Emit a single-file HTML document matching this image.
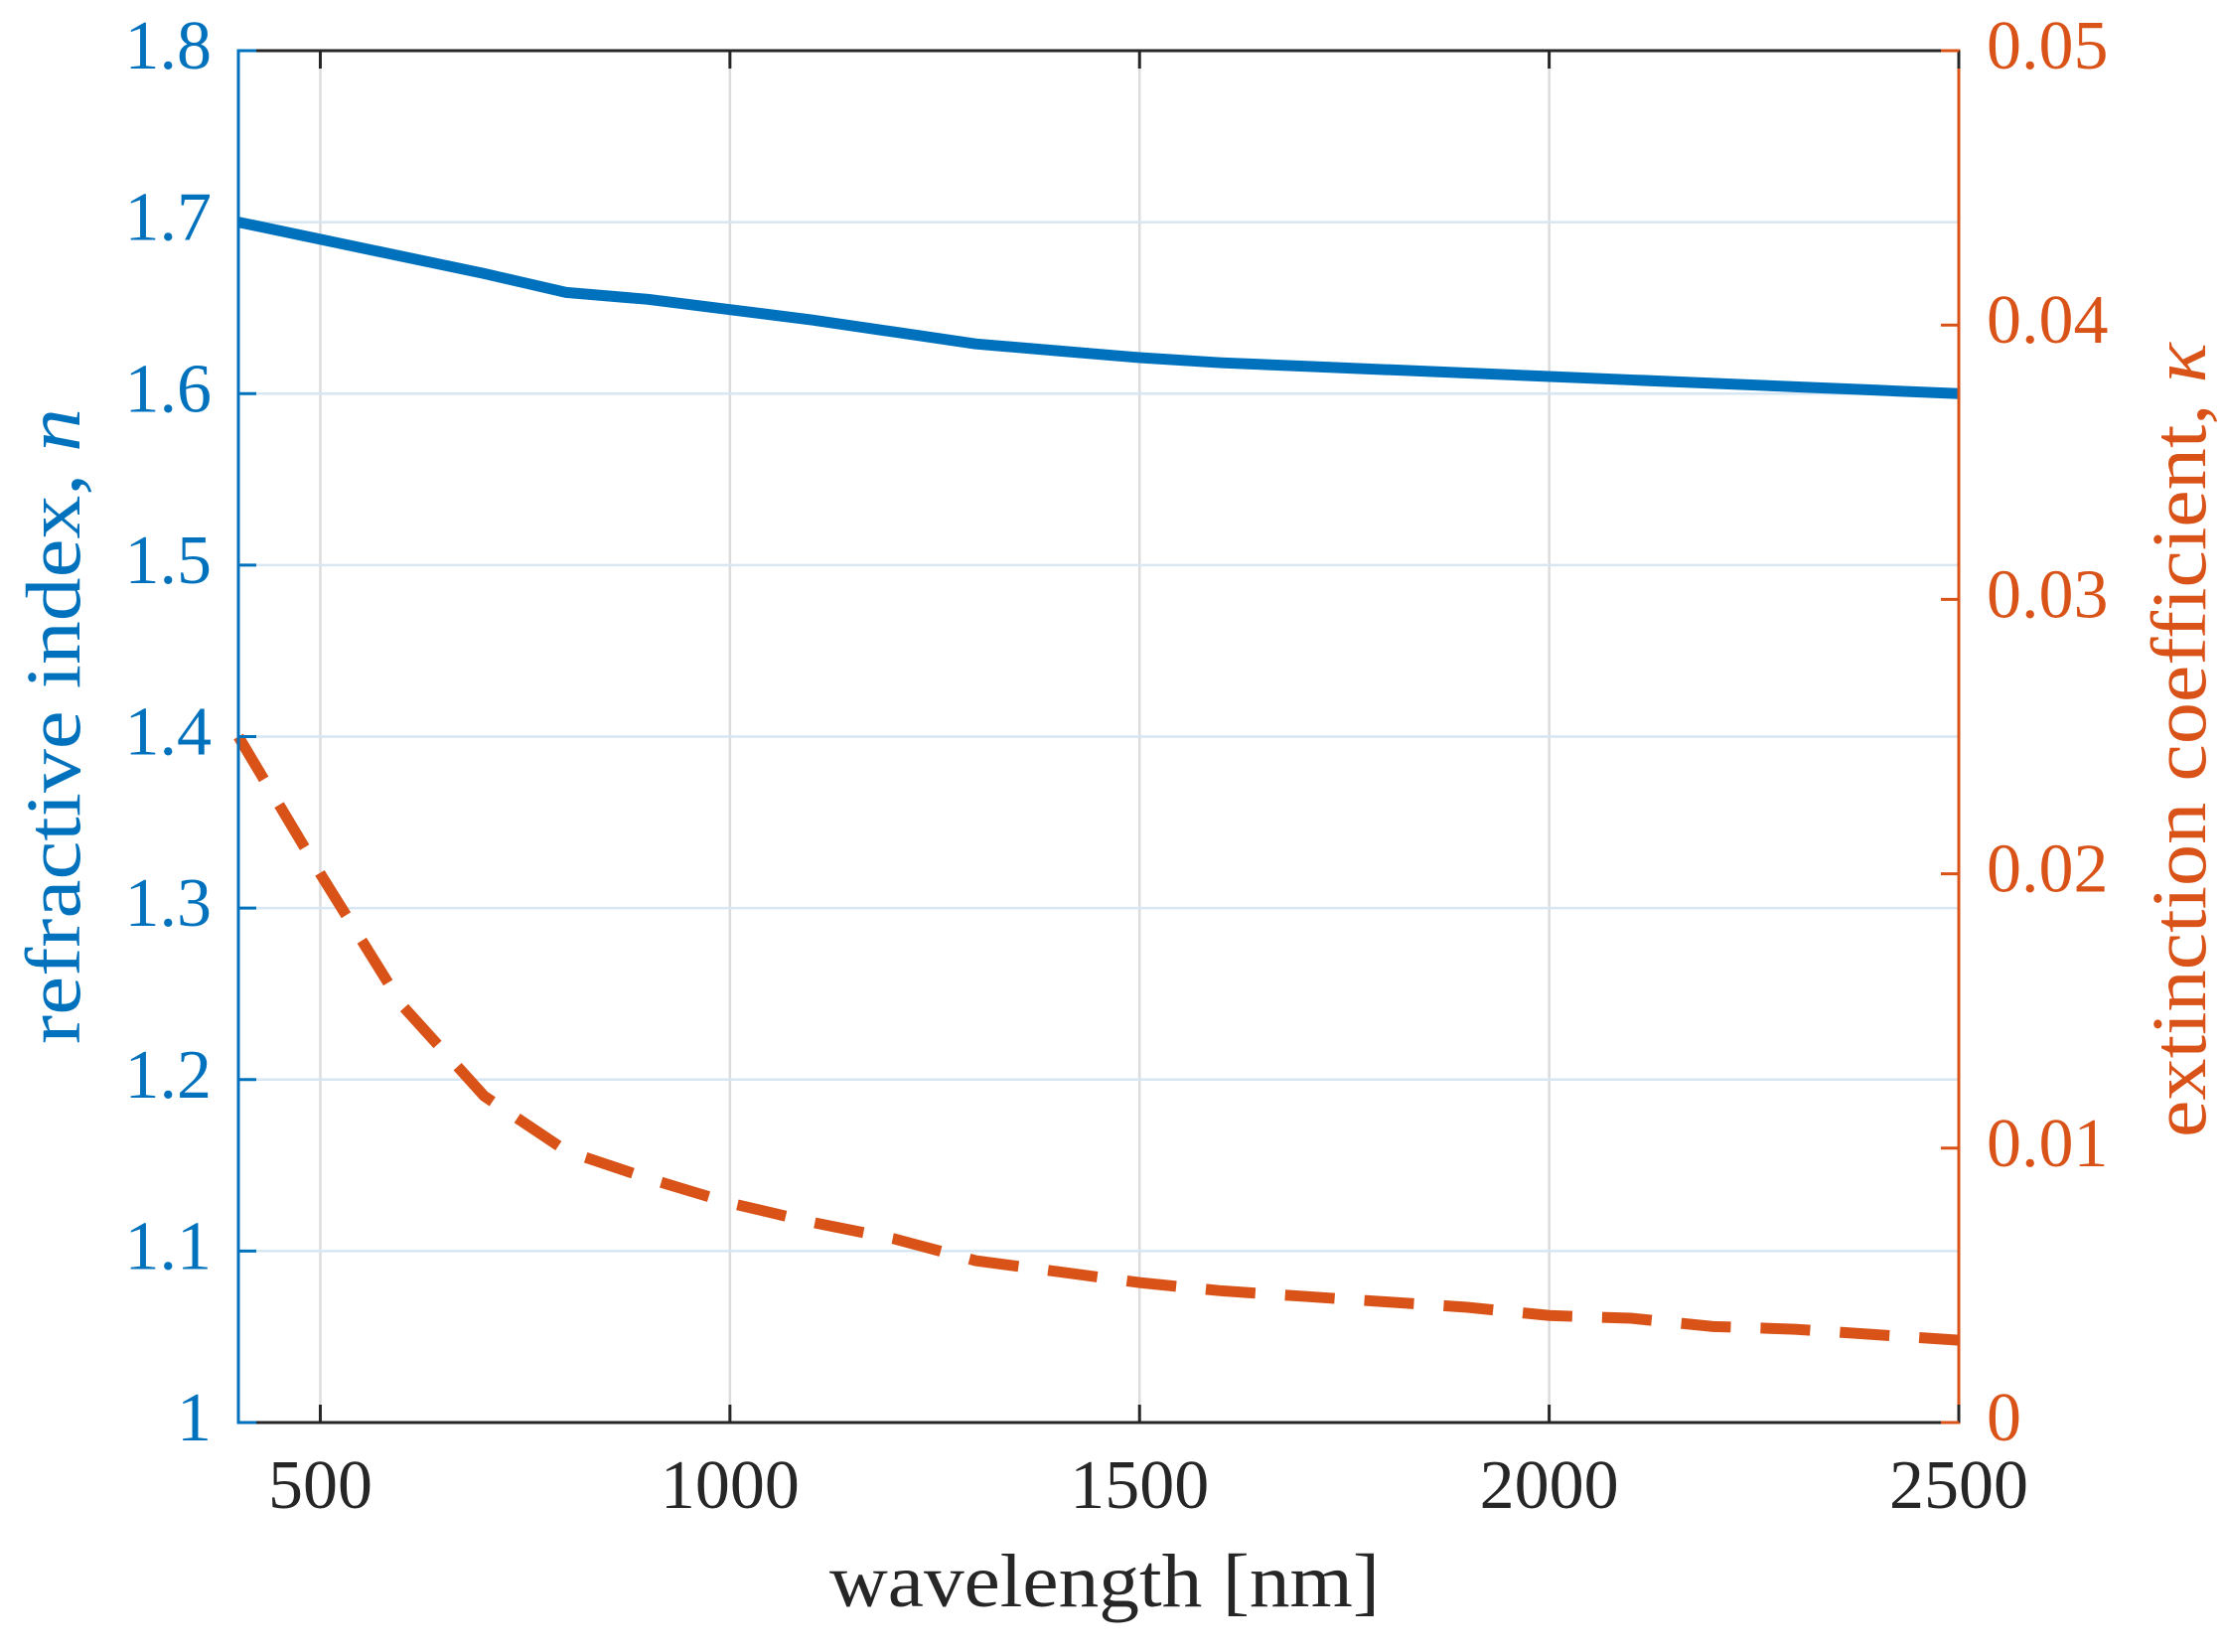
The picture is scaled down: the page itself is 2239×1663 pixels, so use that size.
<!DOCTYPE html>
<html><head><meta charset="utf-8"><style>html,body{margin:0;padding:0;background:#fff}svg{display:block}text{font-family:"Liberation Serif",serif}</style></head>
<body>
<svg id="chart" width="2239" height="1663" xmlns="http://www.w3.org/2000/svg"></svg>
<script>
const wavelengths=[400,500,600,700,800,900,1000,1100,1200,1300,1400,1500,1600,1700,1800,1900,2000,2100,2200,2300,2400,2500];
const nValues=[1.70,1.69,1.68,1.67,1.659,1.655,1.649,1.643,1.636,1.629,1.625,1.621,1.618,1.616,1.614,1.612,1.610,1.608,1.606,1.604,1.602,1.600];
const kValues=[0.025,0.020,0.0152,0.0119,0.0099,0.0089,0.0080,0.0073,0.0067,0.0059,0.0055,0.0051,0.0048,0.0046,0.0044,0.0042,0.0039,0.0038,0.0035,0.0034,0.0032,0.0030];
const xTicks=[500,1000,1500,2000,2500];
const xTickLabels=["500","1000","1500","2000","2500"];
const nTicks=[1,1.1,1.2,1.3,1.4,1.5,1.6,1.7,1.8];
const nTickLabels=["1","1.1","1.2","1.3","1.4","1.5","1.6","1.7","1.8"];
const kTicks=[0,0.01,0.02,0.03,0.04,0.05];
const kTickLabels=["0","0.01","0.02","0.03","0.04","0.05"];

const PL=240,PR=1972,PT=51,PB=1432;
const X=v=>PL+(v-400)/(2500-400)*(PR-PL);
const YN=v=>PB-(v-1)/(0.8)*(PB-PT);
const YK=v=>PB-v/0.05*(PB-PT);
const svgEl=document.getElementById('chart');
const NS='http://www.w3.org/2000/svg';
function mk(tag,attrs,parent){const e=document.createElementNS(NS,tag);for(const k in attrs)e.setAttribute(k,attrs[k]);(parent||svgEl).appendChild(e);return e;}
const BLUE='#0072BD',ORANGE='#D95319',DARK='#262626';

xTicks.forEach(t=>{const g=mk('line',{x1:X(t),x2:X(t),y1:PT,y2:PB,stroke:'#dcdcdc','stroke-width':2.5});

});
nTicks.forEach(t=>{const g=mk('line',{x1:PL,x2:PR,y1:YN(t),y2:YN(t),stroke:'#d6e6f2','stroke-width':2.5});

});

const nPath=mk('polyline',{points:wavelengths.map((w,i)=>X(w)+','+YN(nValues[i])).join(' '),fill:'none',stroke:BLUE,'stroke-width':11,'stroke-linejoin':'round'});


const kPath=mk('polyline',{points:wavelengths.map((w,i)=>X(w)+','+YK(kValues[i])).join(' '),fill:'none',stroke:ORANGE,'stroke-width':11,'stroke-dasharray':'50 30'});



const topAxis=mk('line',{x1:PL,x2:PR,y1:PT,y2:PT,stroke:DARK,'stroke-width':3});


const botAxis=mk('line',{x1:PL,x2:PR,y1:PB,y2:PB,stroke:DARK,'stroke-width':3});


const leftAxis=mk('line',{x1:PL,x2:PL,y1:PT-1.5,y2:PB+1.5,stroke:BLUE,'stroke-width':3});


const rightAxis=mk('line',{x1:PR,x2:PR,y1:PT-1.5,y2:PB+1.5,stroke:ORANGE,'stroke-width':3});



xTicks.forEach((t,i)=>{
 mk('line',{x1:X(t),x2:X(t),y1:PB,y2:PB-18,stroke:DARK,'stroke-width':3});
 mk('line',{x1:X(t),x2:X(t),y1:PT,y2:PT+18,stroke:DARK,'stroke-width':3});
 const tx=mk('text',{x:X(t),y:1518,'text-anchor':'middle','font-size':70,fill:DARK});
 tx.textContent=xTickLabels[i];
 
 
});
nTicks.forEach((t,i)=>{
 mk('line',{x1:PL,x2:PL+18,y1:YN(t),y2:YN(t),stroke:BLUE,'stroke-width':3});
 const tx=mk('text',{x:213,y:YN(t)+18,'text-anchor':'end','font-size':70,fill:BLUE});
 tx.textContent=nTickLabels[i];
 
 
});
kTicks.forEach((t,i)=>{
 mk('line',{x1:PR,x2:PR-18,y1:YK(t),y2:YK(t),stroke:ORANGE,'stroke-width':3});
 const tx=mk('text',{x:2000,y:YK(t)+18,'text-anchor':'start','font-size':70,fill:ORANGE});
 tx.textContent=kTickLabels[i];
 
 
});

const xl=mk('text',{x:1112,y:1617,'text-anchor':'middle','font-size':76,fill:DARK,textLength:554,lengthAdjust:'spacingAndGlyphs'});
xl.textContent='wavelength [nm]';



const yl=mk('text',{x:0,y:0,'text-anchor':'middle','font-size':78,fill:BLUE,transform:'translate(80,731) rotate(-90)',textLength:640,lengthAdjust:'spacingAndGlyphs'});
yl.appendChild(document.createTextNode('refractive index, '));
const ylN=mk('tspan',{'font-style':'italic'},yl);
ylN.textContent='n';



const yr=mk('text',{x:0,y:0,'text-anchor':'middle','font-size':78,fill:ORANGE,transform:'translate(2220,745) rotate(-90)',textLength:800,lengthAdjust:'spacingAndGlyphs'});
yr.appendChild(document.createTextNode('extinction coefficient, '));
const yrK=mk('tspan',{'font-style':'italic'},yr);
yrK.textContent='κ';


</script>
</body></html>
